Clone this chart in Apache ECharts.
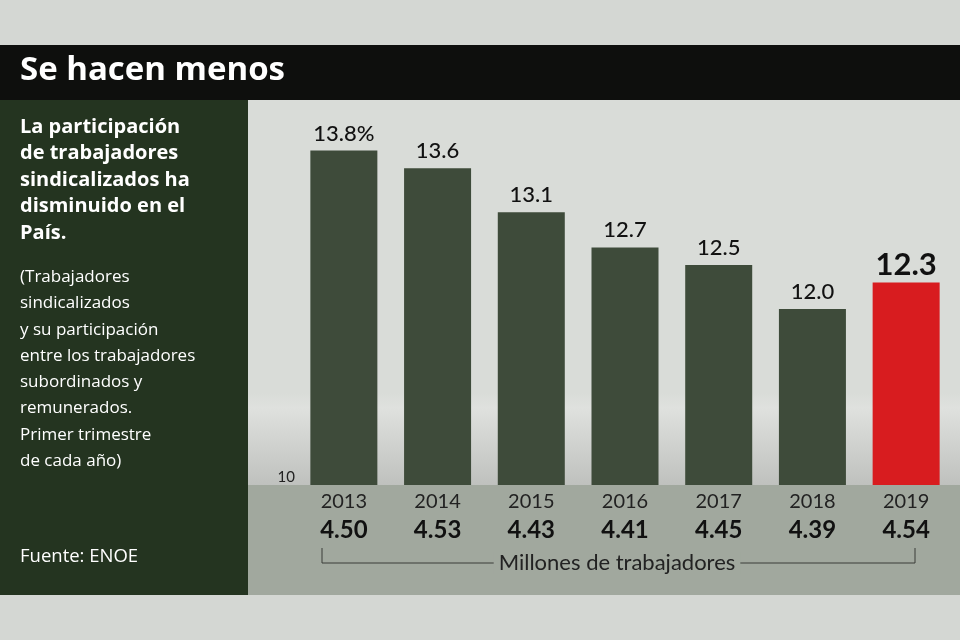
<!DOCTYPE html>
<html>
<head>
<meta charset="utf-8">
<script src="https://cdn.jsdelivr.net/npm/echarts@6/dist/echarts.min.js"></script>
<style>
  html, body { margin: 0; padding: 0; background: #d4d7d3; }
  #main { width: 960px; height: 640px; }
</style>
</head>
<body>
<div id="main"></div>
<script>
// data
var years = ['2013', '2014', '2015', '2016', '2017', '2018', '2019'];
var share = [13.8, 13.6, 13.1, 12.7, 12.5, 12.0, 12.3];      // % sindicalizados
var workers = ['4.50', '4.53', '4.43', '4.41', '4.45', '4.39', '4.54']; // millones

var font = 'Lato, "Open Sans", sans-serif';
var side = '"Open Sans", Lato, sans-serif';
var band = '#a1a89e';

var bars = share.map(function (v, i) {
  if (i === share.length - 1) {
    return {
      value: v,
      itemStyle: { color: '#d81c1f' },
      label: { fontSize: 31, fontWeight: 'bold', color: '#111', distance: 2 }
    };
  }
  return v;
});

var option = {
  animation: false,
  backgroundColor: '#d4d7d3',
  textStyle: { fontFamily: font },
  grid: { left: 297, right: 7, top: 133, bottom: 155 },
  xAxis: {
    type: 'category',
    data: years,
    axisLine: { show: false },
    axisTick: { show: false },
    axisLabel: {
      margin: 3,
      formatter: function (val, i) {
        return '{y|' + val + '}\n{v|' + workers[i] + '}';
      },
      rich: {
        y: { fontSize: 20, lineHeight: 28, color: '#222', fontFamily: font },
        v: { fontSize: 24, lineHeight: 28, fontWeight: 'bold', color: '#111', fontFamily: font }
      }
    }
  },
  yAxis: {
    type: 'value',
    min: 10,
    max: 14,
    interval: 2,
    splitLine: { show: false },
    axisLine: { show: false },
    axisTick: { show: false },
    axisLabel: {
      margin: 2,
      verticalAlign: 'bottom',
      color: '#222',
      fontSize: 15,
      formatter: function (v) { return v === 10 ? '10' : ''; }
    }
  },
  graphic: [
    { type: 'rect', z: -10, shape: { x: 0, y: 45, width: 960, height: 56 }, style: { fill: '#0e0f0d' } },
    { type: 'rect', z: -10, shape: { x: 0, y: 100, width: 248, height: 495 }, style: { fill: '#243420' } },
    {
      type: 'rect', z: -10, shape: { x: 248, y: 100, width: 712, height: 385 },
      style: {
        fill: {
          type: 'linear', x: 0, y: 0, x2: 0, y2: 1,
          colorStops: [
            { offset: 0, color: '#d9dcd8' },
            { offset: 0.76, color: '#d9dcd8' },
            { offset: 0.8, color: '#dfe1de' },
            { offset: 1, color: '#bfc1be' }
          ]
        }
      }
    },
    { type: 'rect', z: -10, shape: { x: 248, y: 485, width: 712, height: 110 }, style: { fill: band } },
    {
      type: 'text', left: 20, top: 54,
      style: { text: 'Se hacen menos', fill: '#fff', font: 'bold 33px ' + side }
    },
    {
      type: 'text', left: 20, top: 114,
      style: {
        text: 'La participación\nde trabajadores\nsindicalizados ha\ndisminuido en el\nPaís.',
        fill: '#fff', font: 'bold 20px ' + side, lineHeight: 26.5
      }
    },
    {
      type: 'text', left: 20, top: 264,
      style: {
        text: '(Trabajadores\nsindicalizados\ny su participación\nentre los trabajadores\nsubordinados y\nremunerados.\nPrimer trimestre\nde cada año)',
        fill: '#fff', font: '17px ' + side, lineHeight: 26.3
      }
    },
    {
      type: 'text', left: 20, top: 547,
      style: { text: 'Fuente: ENOE', fill: '#fff', font: '18.5px ' + side }
    },
    {
      type: 'polyline', z: 1,
      shape: { points: [[322, 548], [322, 563], [915, 563], [915, 548]] },
      style: { stroke: '#3a3d38', lineWidth: 1, fill: null }
    },
    {
      type: 'text', z: 2, x: 617, y: 563,
      style: {
        text: 'Millones de trabajadores', fill: '#222', font: '22px ' + font,
        align: 'center', verticalAlign: 'middle',
        backgroundColor: band, padding: [0, 5]
      }
    }
  ],
  series: [
    {
      type: 'bar',
      data: bars,
      barWidth: 67,
      itemStyle: { color: '#3e4b3a' },
      label: {
        show: true,
        position: 'top',
        distance: 6,
        fontSize: 22,
        fontWeight: 500,
        color: '#111',
        formatter: function (p) {
          return p.value.toFixed(1) + (p.dataIndex === 0 ? '%' : '');
        }
      }
    }
  ]
};

echarts.init(document.getElementById('main')).setOption(option);
</script>
</body>
</html>
